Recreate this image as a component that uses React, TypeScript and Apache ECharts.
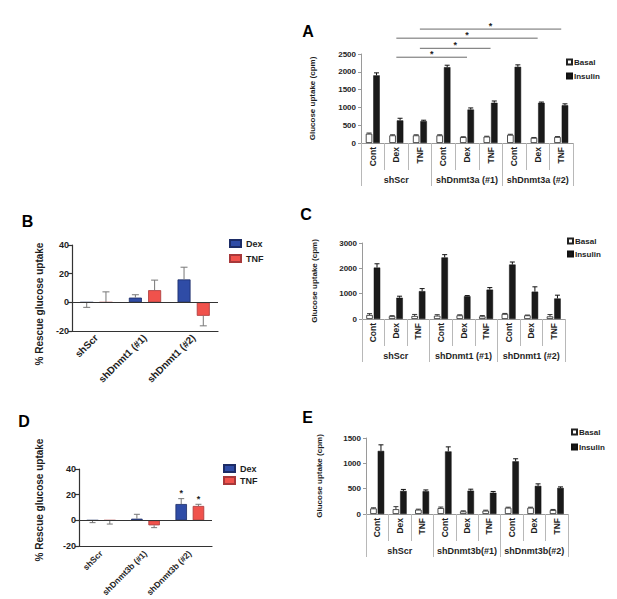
import React, { useEffect, useRef } from "react";
import * as echarts from "echarts";

const FONT = "'Liberation Sans', Arial, Helvetica, sans-serif";

// ---------- data ----------
const subCategories = ["Cont", "Dex", "TNF", "Cont", "Dex", "TNF", "Cont", "Dex", "TNF"];

// Panel A
const groupsA = ["shScr", "shDnmt3a (#1)", "shDnmt3a (#2)"];
const basalA = [260, 215, 215, 215, 165, 180, 230, 145, 170];
const basalErrA = [20, 15, 15, 15, 10, 10, 15, 10, 10];
const insulinA = [1900, 635, 615, 2130, 940, 1130, 2140, 1130, 1060];
const insulinErrA = [70, 60, 25, 55, 45, 50, 55, 20, 40];
// [fromCategory, toCategory, level (cpm)]
const sigA = [
  [1, 4, 2410],
  [2, 5, 2660],
  [1, 7, 2945],
  [2, 8, 3200],
];

// Panel C
const groupsC = ["shScr", "shDnmt1 (#1)", "shDnmt1 (#2)"];
const basalC = [160, 110, 120, 130, 145, 105, 200, 145, 105];
const basalErrC = [50, 20, 60, 40, 20, 30, 20, 10, 70];
const insulinC = [2030, 840, 1100, 2430, 900, 1160, 2150, 1080, 810];
const insulinErrC = [150, 60, 100, 110, 25, 80, 100, 190, 130];

// Panel E
const groupsE = ["shScr", "shDnmt3b(#1)", "shDnmt3b(#2)"];
const basalE = [110, 95, 85, 117, 52, 65, 124, 124, 78];
const basalErrE = [12, 50, 10, 20, 10, 10, 10, 10, 12];
const insulinE = [1245, 455, 450, 1235, 460, 420, 1040, 555, 515];
const insulinErrE = [120, 30, 25, 90, 30, 25, 50, 40, 20];

// Panel B (% rescue)
const categoriesB = ["shScr", "shDnmt1 (#1)", "shDnmt1 (#2)"];
const dexB = [0, 3.3, 16];
const dexErrB = [-3.5, 2, 8.5];
const tnfB = [0, 8.5, -9.4];
const tnfErrB = [7.3, 7, -7];

// Panel D (% rescue)
const categoriesD = ["shScr", "shDnmt3b (#1)", "shDnmt3b (#2)"];
const dexD = [0, 1.3, 12.7];
const dexErrD = [-1.8, 3.4, 4.2];
const tnfD = [0, -3.9, 11.2];
const tnfErrD = [-2.9, -1.8, 1.3];
// [category, level, side (-1 Dex, 1 TNF)]
const starsD = [
  [2, 23, -1],
  [2, 18.4, 1],
];

// ---------- styles ----------
const BLUE = "#2f4ca6";
const BLUE_BORDER = "#1c2c66";
const RED = "#f0524c";
const RED_BORDER = "#a8383a";
const GRAY_AXIS = "#9a9a9a";
const GRAY_TICK = "#b8b8b8";
const TXT = "#1e1e1e";

const SMALL_BAR = 6.5;
const SMALL_GAP = 0.15;
const SMALL_OFF = (SMALL_BAR * (1 + SMALL_GAP)) / 2;
const B_BAR = 13;
const B_GAP = 0.48;
const B_OFF = (B_BAR * (1 + B_GAP)) / 2;
const D_BAR = 11.5;
const D_GAP = 0.5;
const D_OFF = (D_BAR * (1 + D_GAP)) / 2;

const plain = (v: number) => String(v);

function errorSeries(
  xAxisIndex: number,
  yAxisIndex: number,
  vals: number[],
  errs: number[],
  offset: number,
  cap: number,
  color: string
) {
  return {
    type: "custom",
    xAxisIndex,
    yAxisIndex,
    clip: false,
    silent: true,
    z: 3,
    data: vals.map((v, i) => [i, v, errs[i]]),
    renderItem: (_params: any, api: any) => {
      const x = api.value(0);
      const v = api.value(1);
      const e = api.value(2);
      const a = api.coord([x, v]);
      const b = api.coord([x, v + e]);
      const cx = a[0] + offset;
      return {
        type: "group",
        children: [
          { type: "line", shape: { x1: cx, y1: a[1], x2: cx, y2: b[1] }, style: { stroke: color, lineWidth: 1 } },
          { type: "line", shape: { x1: cx - cap, y1: b[1], x2: cx + cap, y2: b[1] }, style: { stroke: color, lineWidth: 1 } },
        ],
      };
    },
  };
}

function subAxis(gridIndex: number) {
  return {
    type: "category",
    gridIndex,
    data: subCategories,
    position: "bottom",
    axisLine: { show: true, onZero: false, lineStyle: { color: GRAY_AXIS, width: 1 } },
    axisTick: { show: true, interval: 0, length: 27, lineStyle: { color: GRAY_TICK, width: 1 } },
    axisLabel: { rotate: 90, interval: 0, fontSize: 8.5, fontWeight: "bold", color: TXT, margin: 4, fontFamily: FONT },
    splitLine: { show: false },
  };
}

function groupAxis(gridIndex: number, data: string[]) {
  return {
    type: "category",
    gridIndex,
    data,
    position: "bottom",
    axisLine: { show: false, onZero: false },
    axisTick: { show: true, interval: 0, length: 43, lineStyle: { color: GRAY_TICK, width: 1 } },
    axisLabel: { interval: 0, fontSize: 9, fontWeight: "bold", color: TXT, margin: 32, fontFamily: FONT },
    splitLine: { show: false },
  };
}

function cpmAxis(gridIndex: number, max: number, interval: number, nameGap: number) {
  return {
    type: "value",
    gridIndex,
    min: 0,
    max,
    interval,
    axisLine: { show: true, lineStyle: { color: GRAY_AXIS, width: 1 } },
    axisTick: { show: true, length: 3, lineStyle: { color: GRAY_AXIS } },
    axisLabel: { fontSize: 8, fontWeight: "bold", color: TXT, margin: 5, fontFamily: FONT, formatter: plain },
    splitLine: { show: false },
    name: "Glucose uptake (cpm)",
    nameLocation: "middle",
    nameGap,
    nameTextStyle: { fontSize: 8, fontWeight: "bold", color: TXT, fontFamily: FONT },
  };
}

function rescueAxis(gridIndex: number, fontSize: number) {
  return {
    type: "value",
    gridIndex,
    min: -20,
    max: 40,
    interval: 20,
    axisLine: { show: true, lineStyle: { color: "#333", width: 1.2 } },
    axisTick: { show: true, length: 4, lineStyle: { color: "#333", width: 1.2 } },
    axisLabel: { fontSize, fontWeight: "bold", color: TXT, margin: 3, fontFamily: FONT, formatter: plain },
    splitLine: { show: false },
  };
}

function rescueXAxis(gridIndex: number, data: string[], fontSize: number, margin: number) {
  return {
    type: "category",
    gridIndex,
    data,
    position: "bottom",
    axisLine: { show: true, onZero: false, lineStyle: { color: "#333", width: 1.2 } },
    axisTick: { show: false },
    axisLabel: { rotate: 45, interval: 0, fontSize, fontWeight: "bold", color: TXT, margin, fontFamily: FONT },
    splitLine: { show: false },
  };
}

function cpmBars(xAxisIndex: number, yAxisIndex: number, basal: number[], insulin: number[]) {
  return [
    {
      type: "bar",
      name: "Basal",
      xAxisIndex,
      yAxisIndex,
      data: basal,
      barWidth: SMALL_BAR,
      barGap: `${SMALL_GAP * 100}%`,
      itemStyle: { color: "#ffffff", borderColor: "#222", borderWidth: 0.8 },
      silent: true,
    },
    {
      type: "bar",
      name: "Insulin",
      xAxisIndex,
      yAxisIndex,
      data: insulin,
      barWidth: SMALL_BAR,
      barGap: `${SMALL_GAP * 100}%`,
      itemStyle: { color: "#1a1a1a", borderColor: "#111", borderWidth: 0.5 },
      silent: true,
    },
  ];
}

function rescueBars(xAxisIndex: number, yAxisIndex: number, dex: number[], tnf: number[], w: number, gap: number) {
  return [
    {
      type: "bar",
      name: "Dex",
      xAxisIndex,
      yAxisIndex,
      data: dex,
      barWidth: w,
      barGap: `${gap * 100}%`,
      itemStyle: { color: BLUE, borderColor: BLUE_BORDER, borderWidth: 0.8 },
      silent: true,
      markLine: {
        silent: true,
        symbol: "none",
        label: { show: false },
        lineStyle: { color: "#333", width: 1.2, type: "solid" },
        data: [{ yAxis: 0 }],
      },
    },
    {
      type: "bar",
      name: "TNF",
      xAxisIndex,
      yAxisIndex,
      data: tnf,
      barWidth: w,
      barGap: `${gap * 100}%`,
      itemStyle: { color: RED, borderColor: RED_BORDER, borderWidth: 0.8 },
      silent: true,
    },
  ];
}

function legendCpm(left: number, top: number, gap: number) {
  return {
    data: ["Basal", "Insulin"],
    left,
    top,
    orient: "vertical",
    padding: 0,
    icon: "rect",
    itemWidth: 5,
    itemHeight: 5,
    itemGap: gap,
    selectedMode: false,
    textStyle: { fontSize: 8, fontWeight: "bold", color: TXT, fontFamily: FONT, padding: [0, 0, 0, -3] },
  };
}

function legendRescue(left: number, top: number, gap: number) {
  return {
    data: ["Dex", "TNF"],
    left,
    top,
    orient: "vertical",
    padding: 0,
    icon: "rect",
    itemWidth: 11,
    itemHeight: 7,
    itemGap: gap,
    selectedMode: false,
    textStyle: { fontSize: 9, fontWeight: "bold", color: TXT, fontFamily: FONT },
  };
}

function letter(text: string, x: number, y: number) {
  return {
    type: "text",
    x,
    y,
    silent: true,
    style: { text, fill: "#000", font: `bold 16px ${FONT}`, align: "center", verticalAlign: "middle" },
  };
}

function rotatedTitle(text: string, x: number, y: number) {
  return {
    type: "text",
    x,
    y,
    rotation: Math.PI / 2,
    silent: true,
    style: { text, fill: TXT, font: `bold 10px ${FONT}`, align: "center", verticalAlign: "middle" },
  };
}

export default function App() {
  const ref = useRef<HTMLDivElement>(null);

  useEffect(() => {
    if (!ref.current) return;
    const chart = echarts.init(ref.current, null, { renderer: "svg" });

    const option: any = {
      animation: false,
      backgroundColor: "#ffffff",
      textStyle: { fontFamily: FONT },
      grid: [
        { left: 361, top: 54, width: 212, height: 89, outerBoundsMode: "none" }, // A
        { left: 362, top: 243, width: 203, height: 76, outerBoundsMode: "none" }, // C
        { left: 366, top: 438, width: 202, height: 76, outerBoundsMode: "none" }, // E
        { left: 72, top: 245, width: 146, height: 86, outerBoundsMode: "none" }, // B
        { left: 79, top: 469, width: 133, height: 77, outerBoundsMode: "none" }, // D
      ],
      xAxis: [
        subAxis(0),
        groupAxis(0, groupsA),
        subAxis(1),
        groupAxis(1, groupsC),
        subAxis(2),
        groupAxis(2, groupsE),
        rescueXAxis(3, categoriesB, 10, 5),
        rescueXAxis(4, categoriesD, 8.5, 6),
      ],
      yAxis: [
        cpmAxis(0, 2500, 500, 45),
        cpmAxis(1, 3000, 1000, 44),
        cpmAxis(2, 1500, 500, 43),
        rescueAxis(3, 9),
        rescueAxis(4, 9),
      ],
      legend: [
        legendCpm(566, 58, 6),
        legendCpm(567, 237, 5),
        legendCpm(571, 428, 7),
        legendRescue(229, 239, 6),
        legendRescue(223, 464, 3),
      ],
      graphic: [
        letter("A", 308, 31),
        letter("B", 27.5, 221),
        letter("C", 306, 214.5),
        letter("D", 24, 421),
        letter("E", 307.5, 417),
        rotatedTitle("% Rescue glucose uptake", 39, 304),
        rotatedTitle("% Rescue glucose uptake", 39, 500),
      ],
      series: [
        // A
        ...cpmBars(0, 0, basalA, insulinA),
        errorSeries(0, 0, basalA, basalErrA, -SMALL_OFF, 2.5, "#333"),
        errorSeries(0, 0, insulinA, insulinErrA, SMALL_OFF, 2.5, "#111"),
        {
          type: "custom",
          xAxisIndex: 0,
          yAxisIndex: 0,
          clip: false,
          silent: true,
          encode: { x: 0, y: 2 },
          data: sigA,
          renderItem: (_p: any, api: any) => {
            const a = api.coord([api.value(0), api.value(2)]);
            const b = api.coord([api.value(1), api.value(2)]);
            return {
              type: "group",
              children: [
                { type: "line", shape: { x1: a[0], y1: a[1], x2: b[0], y2: b[1] }, style: { stroke: "#6a6a6a", lineWidth: 1 } },
                {
                  type: "text",
                  x: (a[0] + b[0]) / 2,
                  y: a[1] - 3,
                  style: { text: "*", fill: TXT, font: `bold 9px ${FONT}`, align: "center", verticalAlign: "middle" },
                },
              ],
            };
          },
        },
        // C
        ...cpmBars(2, 1, basalC, insulinC),
        errorSeries(2, 1, basalC, basalErrC, -SMALL_OFF, 2.5, "#333"),
        errorSeries(2, 1, insulinC, insulinErrC, SMALL_OFF, 2.5, "#111"),
        // E
        ...cpmBars(4, 2, basalE, insulinE),
        errorSeries(4, 2, basalE, basalErrE, -SMALL_OFF, 2.5, "#333"),
        errorSeries(4, 2, insulinE, insulinErrE, SMALL_OFF, 2.5, "#111"),
        // B
        ...rescueBars(6, 3, dexB, tnfB, B_BAR, B_GAP),
        errorSeries(6, 3, dexB, dexErrB, -B_OFF, 3.5, "#777"),
        errorSeries(6, 3, tnfB, tnfErrB, B_OFF, 3.5, "#777"),
        // D
        ...rescueBars(7, 4, dexD, tnfD, D_BAR, D_GAP),
        errorSeries(7, 4, dexD, dexErrD, -D_OFF, 3, "#777"),
        errorSeries(7, 4, tnfD, tnfErrD, D_OFF, 3, "#777"),
        {
          type: "custom",
          xAxisIndex: 7,
          yAxisIndex: 4,
          clip: false,
          silent: true,
          data: starsD,
          renderItem: (_p: any, api: any) => {
            const p = api.coord([api.value(0), api.value(1)]);
            return {
              type: "text",
              x: p[0] + api.value(2) * D_OFF,
              y: p[1] + 2,
              style: { text: "*", fill: TXT, font: `bold 9px ${FONT}`, align: "center", verticalAlign: "middle" },
            };
          },
        },
      ],
    };

    chart.setOption(option);
    return () => {
      chart.dispose();
    };
  }, []);

  return (
    <div
      ref={ref}
      style={{ position: "fixed", left: 0, top: 0, width: 617, height: 599, background: "#fff" }}
    />
  );
}
